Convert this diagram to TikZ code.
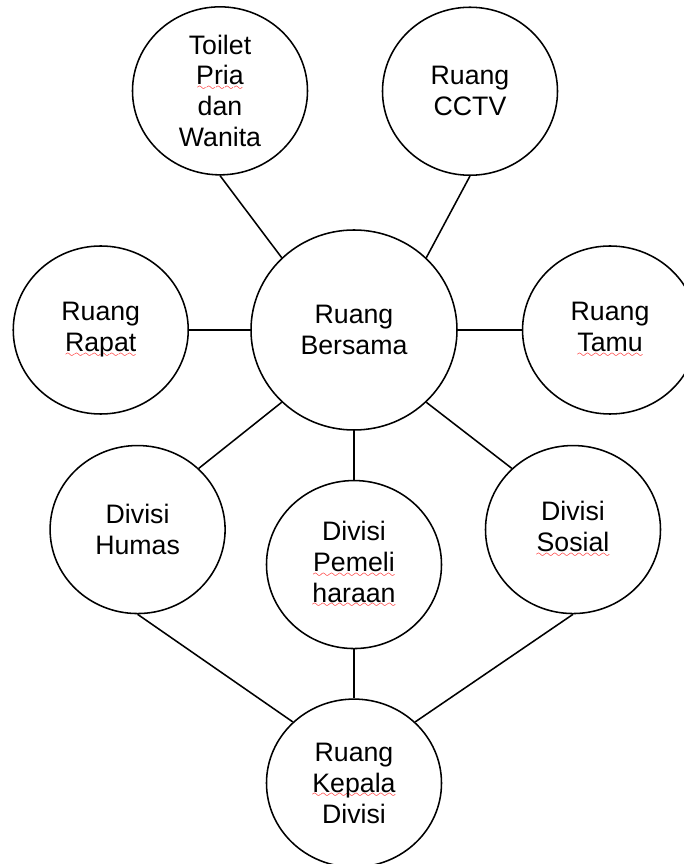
\documentclass[tikz,border=0pt]{standalone}
\usepackage{fontspec}
\setmainfont{Liberation Sans}
\usepackage{tikz}
\usetikzlibrary{positioning,shapes.geometric}

% red wavy underline under a word
\font\wavefont=lasy8
\newcommand\typo[1]{\setbox0\hbox{#1}%
  \rlap{\color{red}\lower4pt\hbox to\wd0{\xleaders\hbox{\wavefont\char58}\hfill}}\box0}

\begin{document}
\begin{tikzpicture}[
    room/.style={ellipse, draw=black, minimum width=4.375cm, minimum height=4.2cm, inner sep=0pt, align=center, font=\fontsize{19}{22}\selectfont},
    line width=1.1pt
    ]
    \path[use as bounding box, clip] (-8.85,-13.35) rectangle (8.25,8.25);
    \node[room, minimum width=5.15cm, minimum height=5cm] (Bersama) at (0,0) {Ruang\\Bersama};
    \node[room, above=1.34cm of Bersama, xshift=-3.35cm] (Toilet) {Toilet\\\typo{Pria}\\dan\\Wanita};
    \node[room, above=1.33cm of Bersama, xshift=2.9cm] (CCTV) {Ruang\\CCTV};
    \node[room, left=1.53cm of Bersama] (Rapat) {Ruang\\\typo{Rapat}};
    \node[room, right=1.6cm of Bersama] (Tamu) {Ruang\\\typo{Tamu}};
    \node[room, below=0.35cm of Bersama, xshift=-5.41cm] (Humas) {Divisi\\Humas};
    \node[room, below=1.225cm of Bersama] (Pemeliharaan) {Divisi\\\typo{Pemeli}\\\typo{haraan}};
    \node[room, below=0.35cm of Bersama, xshift=5.475cm] (Sosial) {Divisi\\\typo{Sosial}};
    \node[room, below=1.225cm of Pemeliharaan] (Kepala) {Ruang\\\typo{Kepala}\\Divisi};
    % upper rooms
    \draw (Toilet.south) -- (Bersama.135);
    \draw (CCTV.south) -- (Bersama.45);
    \draw (Rapat) -- (Bersama);
    \draw (Bersama) -- (Tamu);
    % divisions
    \draw (Bersama.225) -- (Humas.45);
    \draw (Bersama) -- (Pemeliharaan);
    \draw (Bersama.315) -- (Sosial.135);
    \draw (Humas.south) -- (Kepala.135);
    \draw (Pemeliharaan) -- (Kepala);
    \draw (Sosial.south) -- (Kepala.45);
\end{tikzpicture}
\end{document}
